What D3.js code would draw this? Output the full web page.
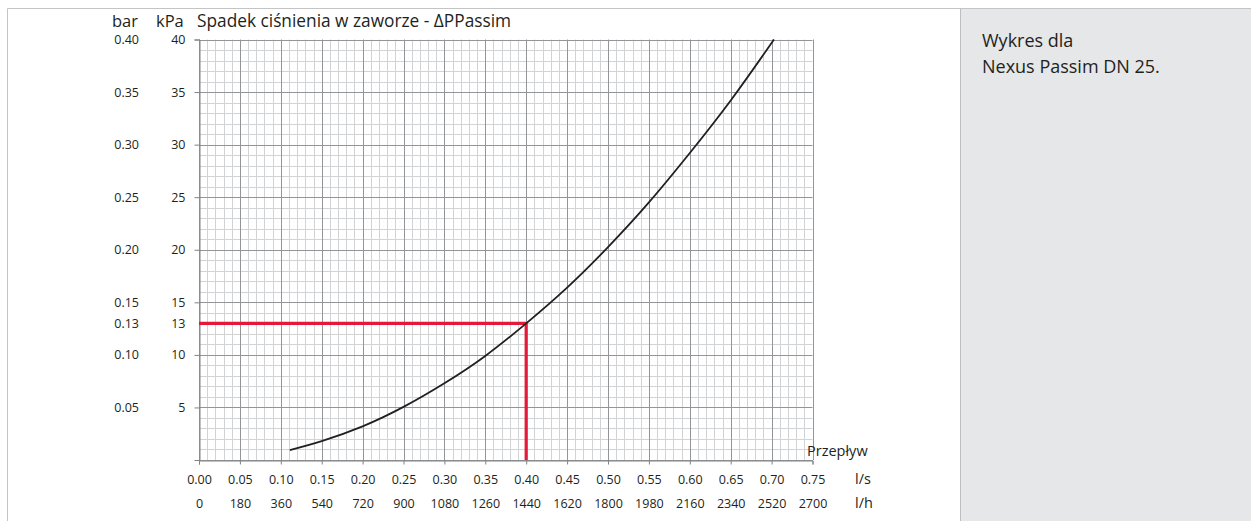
<!DOCTYPE html>
<html><head><meta charset="utf-8">
<script src="https://cdn.jsdelivr.net/npm/d3@7"></script>
<style>
html,body{margin:0;padding:0;background:#fff;}
svg text{font-family:"Open Sans","Noto Sans",sans-serif;fill:#231f20;}
</style></head>
<body>
<svg id="c" width="1251" height="521"></svg>
<script>
// ---- data ----
const flowLs = [0.111, 0.15, 0.20, 0.25, 0.30, 0.35, 0.40, 0.45, 0.50, 0.55, 0.60, 0.65, 0.703];
const dpKpa  = [0.95, 1.8, 3.2, 5.05, 7.3, 9.9, 13.0, 16.4, 20.25, 24.5, 29.2, 34.2, 40.0];
const xTicksLs = [0,0.05,0.10,0.15,0.20,0.25,0.30,0.35,0.40,0.45,0.50,0.55,0.60,0.65,0.70,0.75];
const xTicksLh = [0,180,360,540,720,900,1080,1260,1440,1620,1800,1980,2160,2340,2520,2700];
const yTicksKpa = [5,10,13,15,20,25,30,35,40];
const yTicksBar = ["0.05","0.10","0.13","0.15","0.20","0.25","0.30","0.35","0.40"];
const markerFlow = 0.40, markerDp = 13;
const title = "Spadek ciśnienia w zaworze - ΔPPassim";
const noteLines = ["Wykres dla", "Nexus Passim DN 25."];

const svg = d3.select("#c");
const x = d3.scaleLinear().domain([0, 0.75]).range([199, 812.5]);
const y = d3.scaleLinear().domain([0, 40]).range([460, 39.5]);

// frame
svg.append("rect").attr("x",960.5).attr("y",8.5).attr("width",300).attr("height",520).attr("fill","#e6e7e8").attr("stroke","#bcbec0").attr("stroke-width",1);
svg.append("line").attr("x1",7.5).attr("x2",1251).attr("y1",8.5).attr("y2",8.5).attr("stroke","#c4c4c4");
svg.append("line").attr("x1",7.5).attr("x2",7.5).attr("y1",8.5).attr("y2",521).attr("stroke","#c4c4c4");

// grid minor
const g = svg.append("g");
const minorX = d3.range(0, 76).map(i => i/100).filter((v,i)=> i%5!==0);
const minorY = d3.range(0, 41).filter(v => v%5!==0);
g.selectAll(".mx").data(minorX).enter().append("line")
  .attr("x1",d=>Math.round(x(d))+0.5).attr("x2",d=>Math.round(x(d))+0.5)
  .attr("y1",y(0)).attr("y2",y(40)).attr("stroke","#d1d3d4").attr("stroke-width",1);
g.selectAll(".my").data(minorY).enter().append("line")
  .attr("y1",d=>Math.round(y(d))+0.5).attr("y2",d=>Math.round(y(d))+0.5)
  .attr("x1",x(0)).attr("x2",x(0.75)).attr("stroke","#d1d3d4").attr("stroke-width",1);
// major
const majorX = xTicksLs;
const majorY = d3.range(0, 41, 5);
g.selectAll(".Mx").data(majorX).enter().append("line")
  .attr("x1",d=>Math.round(x(d))+0.5).attr("x2",d=>Math.round(x(d))+0.5)
  .attr("y1",y(0)).attr("y2",y(40)).attr("stroke","#939598").attr("stroke-width",1);
g.selectAll(".My").data(majorY).enter().append("line")
  .attr("y1",d=>Math.round(y(d))+0.5).attr("y2",d=>Math.round(y(d))+0.5)
  .attr("x1",x(0)).attr("x2",x(0.75)).attr("stroke","#939598").attr("stroke-width",1);

// axes
const xAxis = d3.axisBottom(x).tickValues(xTicksLs).tickSize(4).tickFormat(d3.format(".2f"));
const ax = svg.append("g").attr("transform",`translate(0,${Math.round(y(0))+0.5})`).call(xAxis);
ax.select(".domain").attr("stroke","#808285");
ax.selectAll(".tick line").attr("stroke","#808285");
ax.selectAll(".tick text").attr("font-size",12.5).attr("dy",0).attr("y",23).attr("font-family","Open Sans").attr("fill","#231f20");

const xAxis2 = d3.axisBottom(x).tickValues(xTicksLs).tickSize(0).tickFormat((d,i)=>xTicksLh[i]);
const ax2 = svg.append("g").attr("transform",`translate(0,${Math.round(y(0))+0.5})`).call(xAxis2);
ax2.select(".domain").remove();
ax2.selectAll(".tick text").attr("font-size",12.5).attr("dy",0).attr("y",47).attr("font-family","Open Sans").attr("fill","#231f20");

const yAxis = d3.axisLeft(y).tickValues(yTicksKpa.filter(v=>v!==markerDp)).tickSize(5).tickFormat("");
const ay = svg.append("g").attr("transform",`translate(${Math.round(x(0))+0.5},0)`).call(yAxis);
ay.select(".domain").attr("stroke","#808285");
ay.selectAll(".tick line").attr("stroke","#808285");

// y labels (kPa and bar)
svg.selectAll(".kpa").data(yTicksKpa).enter().append("text")
  .attr("x",185.5).attr("y",d=>y(d)+4.5).attr("text-anchor","end").attr("font-size",12.5).text(d=>d);
svg.selectAll(".bar").data(yTicksKpa).enter().append("text")
  .attr("x",139).attr("y",d=>y(d)+4.5).attr("text-anchor","end").attr("font-size",12.5).text((d,i)=>yTicksBar[i]);

// headers
svg.append("text").attr("x",112).attr("y",27).attr("font-size",16.5).text("bar");
svg.append("text").attr("x",156).attr("y",27).attr("font-size",16.5).text("kPa");
svg.append("text").attr("x",197).attr("y",27).attr("font-size",17.3).text(title);
svg.append("text").attr("x",807).attr("y",456).attr("font-size",14.5).text("Przepływ");
svg.append("text").attr("x",855).attr("y",484).attr("font-size",14.5).text("l/s");
svg.append("text").attr("x",855).attr("y",508).attr("font-size",14.5).text("l/h");

// marker
svg.append("path")
  .attr("d",`M${x(0)},${y(markerDp)}H${x(markerFlow)}V${y(0)}`)
  .attr("fill","none").attr("stroke","#e4193a").attr("stroke-width",3.2);

// curve
const pts = flowLs.map((q,i)=>[q, dpKpa[i]]);
svg.append("path").datum(pts)
  .attr("d", d3.line().x(d=>x(d[0])).y(d=>y(d[1])).curve(d3.curveNatural))
  .attr("fill","none").attr("stroke","#231f20").attr("stroke-width",1.8);

// note
svg.selectAll(".note").data(noteLines).enter().append("text")
  .attr("x",982).attr("y",(d,i)=>47+i*26).attr("font-size",18).text(d=>d);
</script>
</body></html>
